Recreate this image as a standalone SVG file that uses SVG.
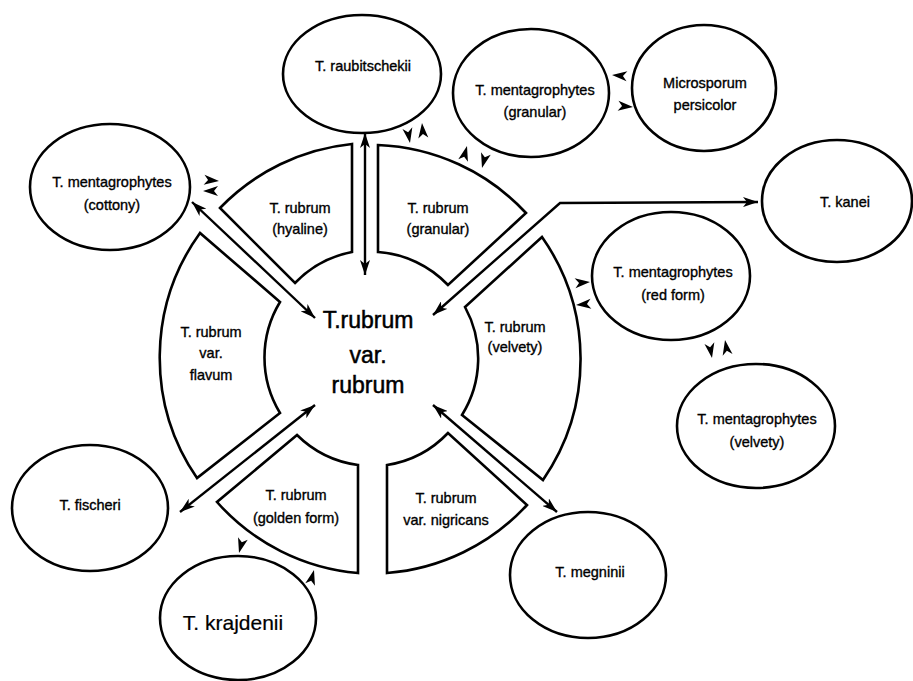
<svg xmlns="http://www.w3.org/2000/svg" xmlns:xlink="http://www.w3.org/1999/xlink" width="913" height="681" viewBox="0 0 913 681">
<style>
.seg{fill:#fff;stroke:#000;stroke-width:2.6;stroke-linejoin:miter}
.ell{fill:#fff;stroke:#000;stroke-width:2.6}
.t{font-family:"Liberation Sans",Arial,sans-serif;font-size:14.5px;text-anchor:middle;fill:#000;stroke:#000;stroke-width:0.35}
.big{font-size:23px;stroke-width:0.5}
.kr{font-size:21px;stroke-width:0.2}
.con{fill:none;stroke:#000;stroke-width:2.4}
</style>
<defs>
<marker id="arr" markerUnits="userSpaceOnUse" markerWidth="16" markerHeight="10" refX="15" refY="5" orient="auto-start-reverse">
<path d="M0,0 L15,5 L0,10 L4,5 Z" fill="#000"/>
</marker>
<path id="ah" d="M0,0 L-15,-5 L-11,0 L-15,5 Z" fill="#000"/>
</defs>
<rect width="913" height="681" fill="#fff"/>
<g id="center">
<text class="t big" x="368" y="328">T.rubrum</text>
<text class="t big" x="368" y="363">var.</text>
<text class="t big" x="368" y="393">rubrum</text>
</g>
<g id="hyaline">
<path class="seg" d="M220,208 A213,213 0 0,1 352,144 L352,252 A107,107 0 0,0 295,283 Z"/>
<text class="t" x="300" y="213">T. rubrum</text>
<text class="t" x="300" y="234">(hyaline)</text>
</g>
<g id="granular">
<path class="seg" d="M378,145 A213,213 0 0,1 526,213 L448,285 A107,107 0 0,0 378,252 Z"/>
<text class="t" x="438" y="213">T. rubrum</text>
<text class="t" x="438" y="234">(granular)</text>
</g>
<g id="velvety">
<path class="seg" d="M542,237 A213,213 0 0,1 543,480 L462,415 A107,107 0 0,0 465,307 Z"/>
<text class="t" x="515" y="332">T. rubrum</text>
<text class="t" x="515" y="352">(velvety)</text>
</g>
<g id="nigricans">
<path class="seg" d="M527,505 A213,213 0 0,1 387,573 L387,465 A107,107 0 0,0 448,433 Z"/>
<text class="t" x="446" y="503">T. rubrum</text>
<text class="t" x="446" y="525">var. nigricans</text>
</g>
<g id="golden">
<path class="seg" d="M358,573 A213,213 0 0,1 217,502 L297,435 A107,107 0 0,0 358,465 Z"/>
<text class="t" x="296" y="500">T. rubrum</text>
<text class="t" x="296" y="523">(golden form)</text>
</g>
<g id="flavum">
<path class="seg" d="M197,478 A213,213 0 0,1 200,233 L280,302 A107,107 0 0,0 280,413 Z"/>
<text class="t" x="211" y="337">T. rubrum</text>
<text class="t" x="211" y="358">var.</text>
<text class="t" x="211" y="380">flavum</text>
</g>
<g id="raubitschekii">
<ellipse class="ell" cx="362" cy="74" rx="79" ry="59"/>
<text class="t" x="363" y="71">T. raubitschekii</text>
</g>
<g id="mentag-granular">
<ellipse class="ell" cx="531" cy="93" rx="78" ry="64"/>
<text class="t" x="535" y="95">T. mentagrophytes</text>
<text class="t" x="535" y="117">(granular)</text>
</g>
<g id="microsporum">
<ellipse class="ell" cx="704" cy="88" rx="72" ry="63"/>
<text class="t" x="705" y="88">Microsporum</text>
<text class="t" x="705" y="110">persicolor</text>
</g>
<g id="mentag-cottony">
<ellipse class="ell" cx="110" cy="187" rx="80" ry="63"/>
<text class="t" x="112" y="187">T. mentagrophytes</text>
<text class="t" x="112" y="210">(cottony)</text>
</g>
<g id="kanei">
<ellipse class="ell" cx="837" cy="201" rx="75" ry="61"/>
<text class="t" x="845" y="207">T. kanei</text>
</g>
<g id="mentag-red">
<ellipse class="ell" cx="671" cy="276" rx="79" ry="64"/>
<text class="t" x="673" y="277">T. mentagrophytes</text>
<text class="t" x="673" y="300">(red form)</text>
</g>
<g id="mentag-velvety">
<ellipse class="ell" cx="756" cy="426" rx="79" ry="62"/>
<text class="t" x="757" y="424">T. mentagrophytes</text>
<text class="t" x="757" y="447">(velvety)</text>
</g>
<g id="fischeri">
<ellipse class="ell" cx="90" cy="508" rx="78" ry="63"/>
<text class="t" x="90" y="510">T. fischeri</text>
</g>
<g id="krajdenii">
<ellipse class="ell" cx="238" cy="618" rx="78" ry="62"/>
<text class="t kr" x="233" y="630">T. krajdenii</text>
</g>
<g id="megninii">
<ellipse class="ell" cx="588" cy="575" rx="78" ry="63"/>
<text class="t" x="590" y="577">T. megninii</text>
</g>
<g id="connectors">
<line class="con" x1="192" y1="202" x2="315" y2="318" marker-start="url(#arr)" marker-end="url(#arr)"/>
<line class="con" x1="365" y1="133" x2="365" y2="275" marker-start="url(#arr)" marker-end="url(#arr)"/>
<polyline class="con" points="433,315 560,203 758,202" marker-start="url(#arr)" marker-end="url(#arr)"/>
<line class="con" x1="315" y1="405" x2="180" y2="512" marker-start="url(#arr)" marker-end="url(#arr)"/>
<line class="con" x1="433" y1="405" x2="557" y2="512" marker-start="url(#arr)" marker-end="url(#arr)"/>
<use xlink:href="#ah" transform="translate(219,181) rotate(5)"/>
<use xlink:href="#ah" transform="translate(203,191) rotate(180)"/>
<use xlink:href="#ah" transform="translate(410,143) rotate(80)"/>
<use xlink:href="#ah" transform="translate(422,123) rotate(-95)"/>
<use xlink:href="#ah" transform="translate(467,146) rotate(-75)"/>
<use xlink:href="#ah" transform="translate(482,168) rotate(105)"/>
<use xlink:href="#ah" transform="translate(612,75) rotate(185)"/>
<use xlink:href="#ah" transform="translate(633,107) rotate(5)"/>
<use xlink:href="#ah" transform="translate(590,282) rotate(-5)"/>
<use xlink:href="#ah" transform="translate(576,305) rotate(175)"/>
<use xlink:href="#ah" transform="translate(712,358) rotate(80)"/>
<use xlink:href="#ah" transform="translate(725,340) rotate(-100)"/>
<use xlink:href="#ah" transform="translate(239,553) rotate(105)"/>
<use xlink:href="#ah" transform="translate(314,570) rotate(-75)"/>
</g>
</svg>
